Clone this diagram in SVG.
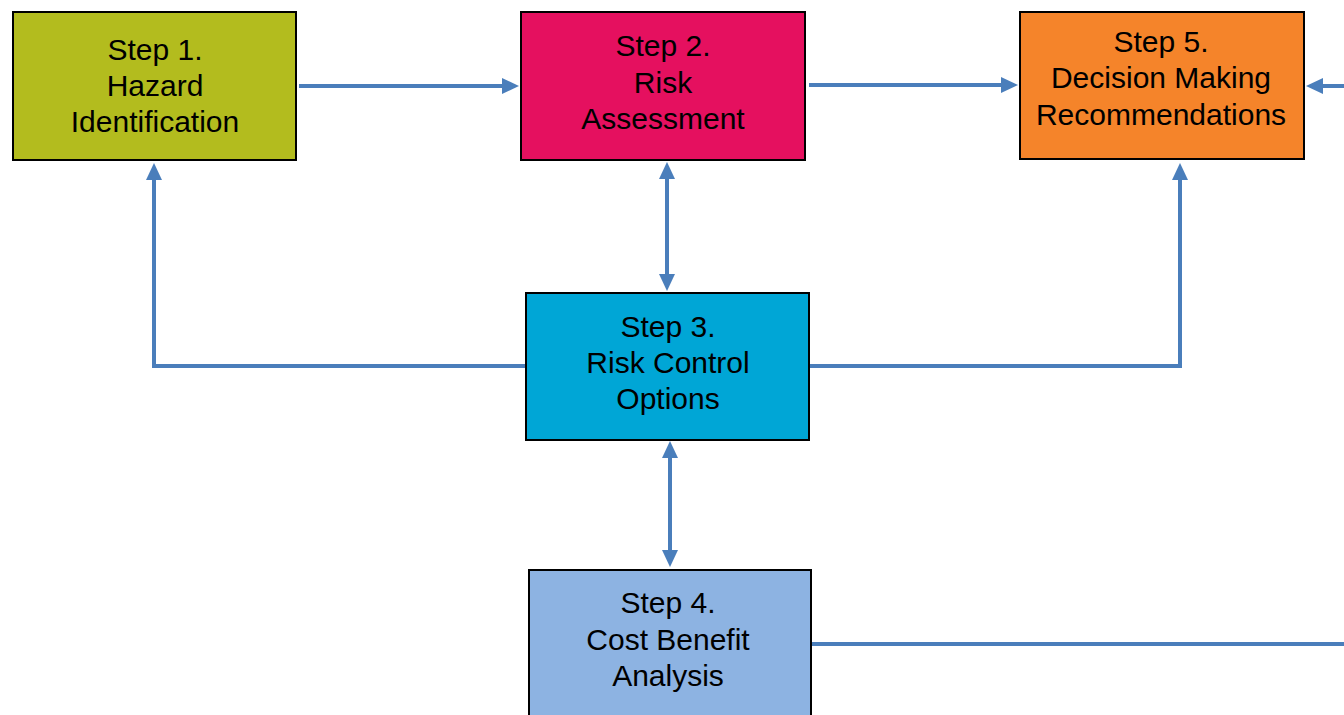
<svg xmlns="http://www.w3.org/2000/svg" width="1344" height="715" viewBox="0 0 1344 715">
<style>
.box{stroke:#000;stroke-width:2}
.t{font-family:"Liberation Sans",Arial,sans-serif;font-size:30px;fill:#000;text-anchor:middle}
.c{fill:none;stroke:#4A7EBB;stroke-width:4}
</style>
<defs>
<marker id="ah" markerUnits="userSpaceOnUse" markerWidth="17" markerHeight="16" refX="2" refY="8" orient="auto-start-reverse" viewBox="0 0 17 16">
<path d="M0,0 L17,8 L0,16 z" fill="#4A7EBB"/>
</marker>
</defs>
<rect width="1344" height="715" fill="#fff"/>
<g id="connectors">
<line class="c" x1="299" y1="86" x2="504" y2="86" marker-end="url(#ah)"/>
<line class="c" x1="809" y1="85" x2="1003" y2="85" marker-end="url(#ah)"/>
<line class="c" x1="1344" y1="86" x2="1321" y2="86" marker-end="url(#ah)"/>
<line class="c" x1="667" y1="177" x2="667" y2="276" marker-start="url(#ah)" marker-end="url(#ah)"/>
<line class="c" x1="670" y1="456" x2="670" y2="552" marker-start="url(#ah)" marker-end="url(#ah)"/>
<path class="c" d="M526,366 H154 V178" marker-end="url(#ah)"/>
<path class="c" d="M810,366 H1180 V178" marker-end="url(#ah)"/>
<path class="c" d="M811,644 H1344"/>
</g>
<g id="step1">
<rect class="box" x="13" y="12" width="283" height="148" fill="#B3BC1E"/>
<text class="t" x="155" y="60">Step 1.</text>
<text class="t" x="155" y="96">Hazard</text>
<text class="t" x="155" y="132">Identification</text>
</g>
<g id="step2">
<rect class="box" x="521" y="12" width="284" height="148" fill="#E5105F"/>
<text class="t" x="663" y="56">Step 2.</text>
<text class="t" x="663" y="93">Risk</text>
<text class="t" x="663" y="129">Assessment</text>
</g>
<g id="step5">
<rect class="box" x="1020" y="12" width="284" height="147" fill="#F5842A"/>
<text class="t" x="1161" y="52">Step 5.</text>
<text class="t" x="1161" y="88">Decision Making</text>
<text class="t" x="1161" y="125">Recommendations</text>
</g>
<g id="step3">
<rect class="box" x="526" y="293" width="283" height="147" fill="#00A6D6"/>
<text class="t" x="668" y="337">Step 3.</text>
<text class="t" x="668" y="373">Risk Control</text>
<text class="t" x="668" y="409">Options</text>
</g>
<g id="step4">
<rect class="box" x="529" y="570" width="282" height="152" fill="#8DB3E2"/>
<text class="t" x="668" y="613">Step 4.</text>
<text class="t" x="668" y="650">Cost Benefit</text>
<text class="t" x="668" y="686">Analysis</text>
</g>
</svg>
